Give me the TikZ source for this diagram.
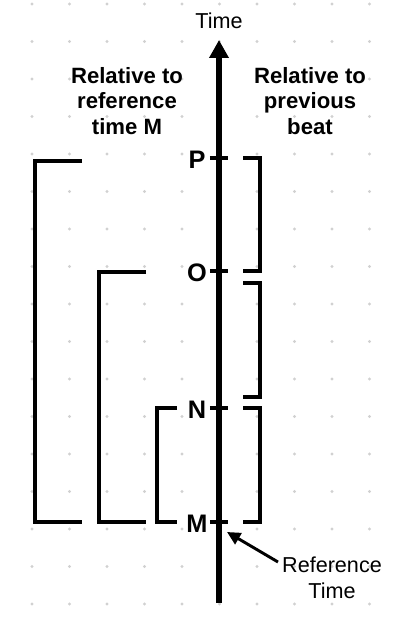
\documentclass[tikz,border=0pt]{standalone}
\usepackage{fontspec}
\setmainfont{Liberation Sans}
\usetikzlibrary{arrows.meta}

\begin{document}
\begin{tikzpicture}[x=0.75pt,y=0.75pt,
   every node/.style={font=\fontsize{16.2}{19.5}\selectfont},
   bracket/.style={line width=3.4pt,line cap=butt,line join=miter},
   beat/.style={font=\fontsize{19}{19}\selectfont\bfseries},
   heading/.style={font=\fontsize{16.6}{19.2}\selectfont\bfseries,align=center}]
\useasboundingbox (0,0) rectangle (400,622);
\foreach \i in {0,...,9}
  \foreach \j in {0,...,16}
    \fill[black!18] (32+37.5*\i,618-37.5*\j) circle (1.6);
\coordinate (bottom) at (219,19);
\coordinate (top) at (219,582);
\coordinate (P) at (219,464);
\coordinate (O) at (219,351);
\coordinate (N) at (219,214);
\coordinate (M) at (219,100);
\draw[line width=4.4pt,-{Triangle[width=14pt,length=13.5pt]}] (bottom) -- (top);
\node (time) at (219,601) {Time};
\foreach \b in {P,O,N,M}{
  \draw[bracket] ([xshift=-6.8pt]\b) -- ++(18,0);
  \node[beat] (l\b) at ([shift={(-16.5pt,-1pt)}]\b) {\b};
}
% relative to previous beat
\draw[bracket] (243,464) -- (260,464) -- (260,351) -- (243,351);
\draw[bracket] (243,339) -- (260,339) -- (260,225) -- (243,225);
\draw[bracket] (243,214) -- (260,214) -- (260,100) -- (243,100);
% relative to M
\draw[bracket] (82,461) -- (35,461) -- (35,100) -- (82,100);
\draw[bracket] (146,350) -- (99,350) -- (99,100) -- (146,100);
\draw[bracket] (177,214) -- (157,214) -- (157,100) -- (177,100);
\node[heading] (relM) at (127,521) {Relative to\\reference\\time M};
\node[heading] (relbeat) at (310,521) {Relative to\\previous\\beat};
\node[align=center] (ref) at (332,44) {Reference\\Time};
\coordinate (refstart) at (278,60);
\draw[line width=2.2pt,-{Triangle[width=9.5pt,length=10pt]}] (refstart) -- ([shift={(8,-10)}]M);
\end{tikzpicture}
\end{document}
